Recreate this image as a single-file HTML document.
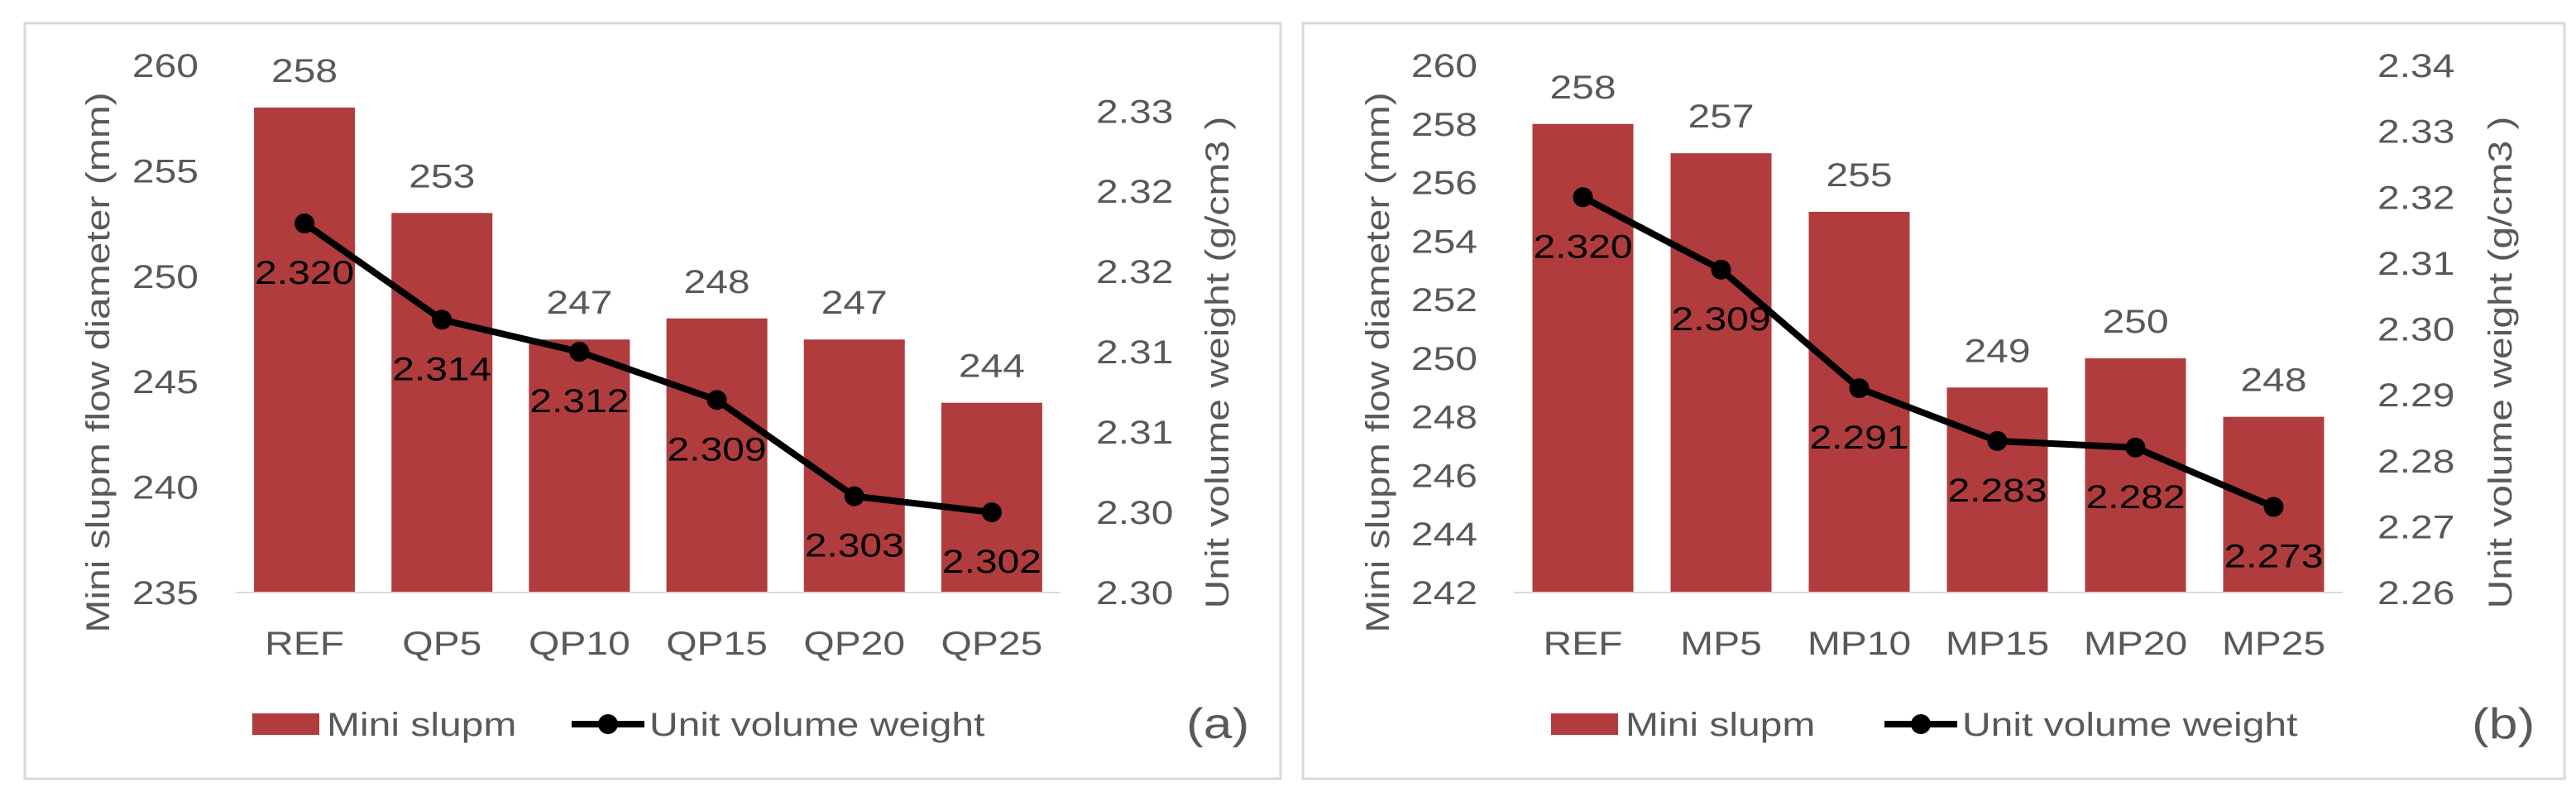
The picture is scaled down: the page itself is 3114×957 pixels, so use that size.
<!DOCTYPE html>
<html><head><meta charset="utf-8"><style>
html,body{margin:0;padding:0;background:#fff}
svg{display:block;font-family:"Liberation Sans",Arial,sans-serif}
</style></head><body>
<svg id="chart" width="3114" height="957" viewBox="0 0 3114 957" xmlns="http://www.w3.org/2000/svg"></svg>
<script>
const catsA = ["REF","QP5","QP10","QP15","QP20","QP25"];
const slumpA = [258,253,247,248,247,244];
const weightA = [2.320,2.314,2.312,2.309,2.303,2.302];
const leftTicksA = [235,240,245,250,255,260];
const rightTicksA = [2.297,2.302,2.307,2.312,2.317,2.322,2.327];

const catsB = ["REF","MP5","MP10","MP15","MP20","MP25"];
const slumpB = [258,257,255,249,250,248];
const weightB = [2.320,2.309,2.291,2.283,2.282,2.273];
const leftTicksB = [242,244,246,248,250,252,254,256,258,260];
const rightTicksB = [2.26,2.27,2.28,2.29,2.30,2.31,2.32,2.33,2.34];

const NS="http://www.w3.org/2000/svg";
const svg=document.getElementById('chart');
const SX=1.2;
function mk(tag,attrs,parent,text){const e=document.createElementNS(NS,tag);for(const k in attrs)e.setAttribute(k,attrs[k]);if(text!==undefined)e.textContent=text;(parent||svg).appendChild(e);return e;}
function txt(x,y,s,anchor,size,fill,parent,rot){
  const tr=rot?`translate(${x},${y}) rotate(-90) scale(${SX},1)`:`translate(${x},${y}) scale(${SX},1)`;
  return mk('text',{x:0,y:0,transform:tr,'text-anchor':anchor,'font-size':size,fill:fill},parent,s);
}

function panel(cfg){
  const g=mk('g',{});
  
  
  const b=mk('rect',{x:cfg.bx0,y:28,width:cfg.bx1-cfg.bx0,height:913,fill:'#fff',stroke:'#d9d9d9','stroke-width':3},g);
  
  
  const top=79,bot=716,x0=cfg.px0,x1=cfg.px1;
  const yL=v=>bot-(v-cfg.lmin)/(cfg.lmax-cfg.lmin)*(bot-top);
  const yR=v=>bot-(v-cfg.rmin)/(cfg.rmax-cfg.rmin)*(bot-top);
  const n=cfg.cats.length, w=(x1-x0)/n;
  const xc=i=>x0+w*(i+0.5);
  cfg.lt.forEach(v=>{const t=txt(cfg.ltx,yL(v)+14,String(v),'end',40,'#595959',g);
    });
  cfg.rt.forEach(v=>{const t=txt(cfg.rtx,yR(v)+14,v.toFixed(2),'start',40,'#595959',g);
    });
  cfg.slump.forEach((v,i)=>{const bw=122;
    const r=mk('rect',{x:xc(i)-bw/2,y:yL(v),width:bw,height:bot-yL(v),fill:'#b03c3d'},g);
    
    const t=txt(xc(i),yL(v)-31,String(v),'middle',40,'#595959',g);
    
    const c=txt(xc(i),791,cfg.cats[i],'middle',40,'#595959',g);
    
  });
  const ax=mk('line',{x1:x0,y1:bot,x2:x1,y2:bot,stroke:'#d9d9d9','stroke-width':2},g);
  
  const pts=cfg.weight.map((v,i)=>xc(i)+','+yR(v)).join(' ');
  const pl=mk('polyline',{points:pts,fill:'none',stroke:'#000','stroke-width':8,'stroke-linejoin':'round'},g);
  
  cfg.weight.forEach((v,i)=>{
    const c=mk('circle',{cx:xc(i),cy:yR(v),r:12,fill:'#000'},g);
    
    const t=txt(xc(i),yR(v)+73,v.toFixed(3),'middle',40,'#000',g);
    
  });
  const lt=txt(cfg.ltitle,438,'Mini slupm flow diameter (mm)','middle',40,'#595959',g,true);
  
  const rtt=txt(cfg.rtitle,438,'Unit volume weight (g/cm3 )','middle',40,'#595959',g,true);
  
  const ls=mk('rect',{x:cfg.lg,y:862,width:81,height:26,fill:'#b03c3d'},g);
  
  const l1=txt(cfg.lg+90,889,'Mini slupm','start',40,'#595959',g);
  
  const ll=mk('line',{x1:cfg.lg2,y1:875,x2:cfg.lg2+88,y2:875,stroke:'#000','stroke-width':8},g);
  
  const lc=mk('circle',{cx:cfg.lg2+44,cy:875,r:12,fill:'#000'},g);
  
  const l2=txt(cfg.lg2+94,889,'Unit volume weight','start',40,'#595959',g);
  
  const pl2=txt(cfg.plx,892,cfg.tag,'start',52,'#595959',g);
  
}
panel({name:'panel-a',bx0:30,bx1:1548,px0:285,px1:1282,cats:catsA,slump:slumpA,weight:weightA,
  lmin:235,lmax:260,rmin:2.297,rmax:2.32985,lt:leftTicksA,rt:rightTicksA,ltx:240,rtx:1325,
  ltitle:132,rtitle:1485,lg:305,lg2:691,plx:1434,tag:'(a)'});
panel({name:'panel-b',bx0:1575,bx1:3100,px0:1830,px1:2832,cats:catsB,slump:slumpB,weight:weightB,
  lmin:242,lmax:260,rmin:2.26,rmax:2.34,lt:leftTicksB,rt:rightTicksB,ltx:1786,rtx:2874,
  ltitle:1679,rtitle:3036,lg:1875,lg2:2278,plx:2988,tag:'(b)'});
</script>
</body></html>
